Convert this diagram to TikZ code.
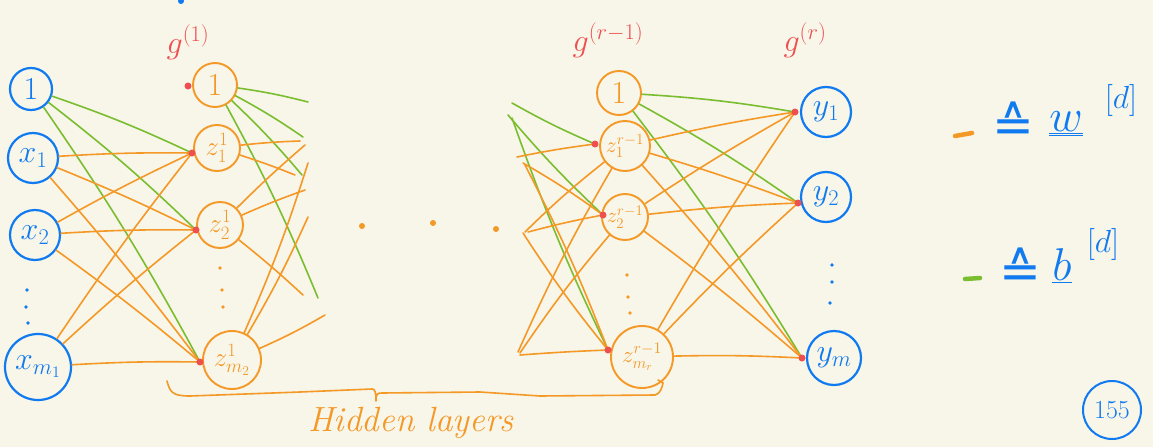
\RequirePackage{fix-cm}
\documentclass[tikz,border=0pt]{standalone}
\usepackage{fontspec}
\usepackage{xcolor}
\usetikzlibrary{shapes.geometric}
\newfontfamily\dvfont{DejaVu Sans}
\definecolor{bg}{RGB}{248,245,233}
\definecolor{pblue}{RGB}{16,122,240}
\definecolor{porange}{RGB}{244,152,38}
\definecolor{pgreen}{RGB}{122,190,48}
\definecolor{pred}{RGB}{238,80,80}
\tikzset{
 inn/.style={circle, draw=pblue, line width=2.2pt, text=pblue, inner sep=0pt, font=\fontsize{32}{34}\selectfont},
 hid/.style={circle, draw=porange, line width=1.9pt, text=porange, inner sep=0pt, font=\fontsize{32}{34}\selectfont},
 rdot/.style={circle, fill=pred, inner sep=0pt, minimum size=7pt},
 wl/.style={draw=porange, line width=1.6pt, line cap=round},
 bl/.style={draw=pgreen, line width=1.6pt, line cap=round},
 lab/.style={text=pred, font=\fontsize{32}{34}\selectfont},
 leg/.style={text=pblue, font=\fontsize{46}{48}\selectfont, inner sep=0pt},
 legs/.style={text=pblue, font=\fontsize{32}{34}\selectfont, inner sep=0pt},
 legeq/.style={text=pblue, font=\dvfont\fontsize{50}{52}\selectfont, inner sep=0pt},
}
\begin{document}
\begin{tikzpicture}[x=1pt,y=-1pt]
\fill[bg] (0,0) rectangle (1153,447);
\useasboundingbox (0,0) rectangle (1153,447);

% input layer
\node[inn, minimum size=42] (i0) at (31,89) {$1$};
\node[inn, minimum size=50] (i1) at (33,158) {$x_1$};
\node[inn, minimum size=50] (i2) at (35,235) {$x_2$};
\node[inn, minimum size=66] (im) at (38,367) {$x_{m_1}$};
\fill[pblue] (27,290) circle (1.8) (26,307) circle (1.8) (28,323) circle (1.8);

% hidden layer 1
\node[hid, minimum size=44] (a0) at (215,85) {$1$};
\node[hid, minimum size=46, font=\fontsize{27}{29}\selectfont] (a1) at (217,148) {$z^1_1$};
\node[hid, minimum size=46, font=\fontsize{27}{29}\selectfont] (a2) at (220,225) {$z^1_2$};
\node[hid, minimum size=58, font=\fontsize{27}{29}\selectfont] (am) at (232,360) {$z^1_{m_2}$};
\fill[porange] (220,268) circle (1.8) (222,290) circle (1.8) (223,307) circle (1.8);

% hidden layer r-1
\node[hid, minimum size=44] (b0) at (619,93) {$1$};
\node[hid, minimum size=50, font=\fontsize{22}{24}\selectfont] (b1) at (625,146) {$z^{r-1}_1$};
\node[hid, minimum size=46, font=\fontsize{21}{23}\selectfont] (b2) at (625,217) {$z^{r-1}_2$};
\node[hid, minimum size=62, font=\fontsize{23}{25}\selectfont] (bm) at (642,357) {$z^{r-1}_{m_r}$};
\fill[porange] (627,275) circle (1.8) (628,297) circle (1.8) (630,313) circle (1.8);

% output layer
\node[inn, minimum size=50] (o1) at (826,112) {$y_1$};
\node[inn, minimum size=50] (o2) at (826,197) {$y_2$};
\node[inn, minimum size=54] (om) at (834,358) {$y_m$};
\fill[pblue] (832,265) circle (1.8) (832,282) circle (1.8) (830,303) circle (1.8);

% red activation dots (positions)
\coordinate (ra1) at (192,153);
\coordinate (ra2) at (196,230);
\coordinate (ram) at (200,362);
\coordinate (rb1) at (595,144);
\coordinate (rb2) at (603,215);
\coordinate (rbm) at (608,350);
\coordinate (ro1) at (795,112);
\coordinate (ro2) at (798,203);
\coordinate (rom) at (802,358);

% input -> hidden 1
\foreach \t in {ra1,ra2,ram} \draw[bl] (i0) to[bend left=3] (\t);
\foreach \s in {i1,i2,im}
  \foreach \t in {ra1,ra2,ram} \draw[wl] (\s) to[bend left=2] (\t);

% hidden 1 -> dangling
\coordinate (g1) at (308,102); \coordinate (g2) at (303,137);
\coordinate (g3) at (302,175); \coordinate (g4) at (318,298);
\foreach \t in {g1,g2,g3,g4} \draw[bl] (a0) to[bend left=3] (\t);
\coordinate (p1) at (300,141); \coordinate (p2) at (295,175);
\coordinate (p3) at (305,145); \coordinate (p4) at (305,190);
\coordinate (p5) at (303,295); \coordinate (p6) at (308,163);
\coordinate (p7) at (308,217); \coordinate (p8) at (325,315);
\foreach \t in {p1,p2} \draw[wl] (a1) to[bend left=2] (\t);
\foreach \t in {p3,p4,p5} \draw[wl] (a2) to[bend left=2] (\t);
\foreach \t in {p6,p7,p8} \draw[wl] (am) to[bend right=3] (\t);

% middle dots
\fill[porange] (362,226) circle (3) (433,223) circle (3) (496,229) circle (3);

% dangling -> hidden r-1
\coordinate (h1) at (512,103); \coordinate (h2) at (508,115); \coordinate (h3) at (512,118);
\draw[bl] (h1) to[bend right=3] (rb1);
\draw[bl] (h2) to[bend right=3] (rb2);
\draw[bl] (h3) to[bend right=3] (rbm);
\coordinate (q1) at (517,157); \coordinate (q2) at (523,163); \coordinate (q3) at (525,165);
\coordinate (q4) at (525,232); \coordinate (q5) at (528,232); \coordinate (q6) at (523,233);
\coordinate (q7) at (518,352); \coordinate (q8) at (520,353); \coordinate (q9) at (520,355);
\draw[wl] (q1) to[bend left=2] (rb1);
\draw[wl] (q2) to[bend left=3] (rb2);
\draw[wl] (q3) to[bend left=3] (rbm);
\draw[wl] (q4) to[bend left=3] (b1);
\draw[wl] (q5) to[bend left=2] (rb2);
\draw[wl] (q6) to[bend right=3] (rbm);
\draw[wl] (q7) to[bend left=3] (b1);
\draw[wl] (q8) to[bend left=3] (b2);
\draw[wl] (q9) to[bend left=1] (rbm);

% hidden r-1 -> output
\foreach \t in {ro1,ro2,rom} \draw[bl] (b0) to[bend left=3] (\t);
\foreach \s in {b1,b2,bm}
  \foreach \t in {ro1,ro2,rom} \draw[wl] (\s) to[bend left=2] (\t);

% red dots drawn on top
\node[rdot] (da0) at (188,86) {};
\node[rdot] (da1) at (ra1) {};
\node[rdot] (da2) at (ra2) {};
\node[rdot] (dam) at (ram) {};
\node[rdot] (db1) at (rb1) {};
\node[rdot] (db2) at (rb2) {};
\node[rdot] (dbm) at (rbm) {};
\node[rdot] (do1) at (ro1) {};
\node[rdot] (do2) at (ro2) {};
\node[rdot] (dom) at (rom) {};

% layer labels
\node[lab] (la) at (188,42) {$g^{(1)}$};
\node[lab] (lb) at (608,40) {$g^{(r-1)}$};
\node[lab] (lc) at (805,40) {$g^{(r)}$};
\fill[pblue] (181,1) circle (3);

% brace
\draw[wl] (167,381) .. controls (170,392) and (172,396) .. (190,396)
  -- (300,392) -- (372,389) .. controls (375,389) and (376,392) .. (376,401)
  (376,401) .. controls (376,394) and (377,393) .. (382,393)
  -- (480,392) -- (540,396) -- (655,395) .. controls (660,394) and (662,388) .. (663,383)
  -- (658,380);
\node[text=porange, font=\fontsize{35}{37}\selectfont\itshape] (hl) at (411,423) {Hidden layers};

% legend
\draw[porange, line width=4.5pt, line cap=round] (955,136) -- (972,133);
\node[legeq] (eqw) at (1013,122) {≙};
\node[leg] (lw) at (1066,124) {$\underline{\underline{w}}$};
\node[legs] (lwd) at (1121,100) {$[d]$};
\draw[pgreen, line width=4.5pt, line cap=round] (965,279) -- (980,278);
\node[legeq] (eqb) at (1020,268) {≙};
\node[leg] (lb2) at (1062,266) {$\underline{b}$};
\node[legs] (lbd) at (1103,244) {$[d]$};

% page number
\node[draw=pblue, circle, line width=2pt, text=pblue, inner sep=0pt, font=\fontsize{26}{28}\selectfont, minimum size=58] (pg) at (1112,410) {155};
\end{tikzpicture}
\end{document}
